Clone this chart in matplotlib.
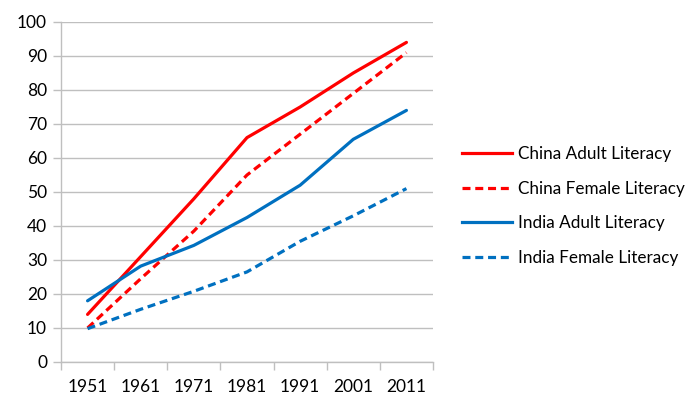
import matplotlib
matplotlib.use("Agg")
import matplotlib.pyplot as plt
from matplotlib.lines import Line2D
import numpy as np

years = ["1951", "1961", "1971", "1981", "1991", "2001", "2011"]
china_adult = [14, 31, 48, 66, 75, 85, 94]
china_female = [10, 24.5, 38.5, 55, 67, 79, 91]
india_adult = [18, 28.2, 34.3, 42.5, 52, 65.5, 74]
india_female = [9.8, 15.5, 20.8, 26.5, 35.5, 43, 51]

labels = ["China Adult Literacy", "China Female Literacy",
          "India Adult Literacy", "India Female Literacy"]

plt.rcParams['font.family'] = ['Lato', 'DejaVu Sans']

RED = "#ff0000"
BLUE = "#0070c0"
GRID = "#bfbfbf"
DASH = (0, (2.5, 1.5))

fig = plt.figure(figsize=(6.98, 3.97), dpi=100)
ax = fig.add_axes([61/698, 1 - 362/397, (433 - 61)/698, (362 - 22)/397])

x = np.arange(len(years))
series = [
    (china_adult, RED, "-"),
    (china_female, RED, DASH),
    (india_adult, BLUE, "-"),
    (india_female, BLUE, DASH),
]
handles = []
for vals, col, ls in series:
    ax.plot(x, vals, color=col, lw=2.3, linestyle=ls,
            solid_capstyle="round", dash_capstyle="butt")
    handles.append(Line2D([0], [0], color=col, lw=2.3, linestyle=ls))

ax.set_xlim(-0.5, len(years) - 0.5)
ax.set_ylim(0, 100)
ax.set_yticks(np.arange(0, 101, 10))
ax.set_xticks(x)
ax.set_xticklabels(years)
ax.set_xticks(np.arange(-0.5, len(years)), minor=True)

ax.grid(axis="y", color=GRID, lw=1)
ax.set_axisbelow(True)
for s in ["top", "right"]:
    ax.spines[s].set_visible(False)
for s in ["left", "bottom"]:
    ax.spines[s].set_color(GRID)
    ax.spines[s].set_linewidth(1)

ax.tick_params(axis="x", which="major", length=0, pad=12, labelsize=12.5)
ax.tick_params(axis="x", which="minor", length=6, color=GRID, width=1)
ax.tick_params(axis="y", length=6, color=GRID, width=1, pad=4, labelsize=12.5)

fig.legend(handles, labels, loc="center left", bbox_to_anchor=(462/698, 1 - 206/397),
           frameon=False, fontsize=12.3, handlelength=2.9, handletextpad=0.35,
           labelspacing=1.1, borderpad=0, borderaxespad=0)

fig.savefig("out.png", dpi=100)
